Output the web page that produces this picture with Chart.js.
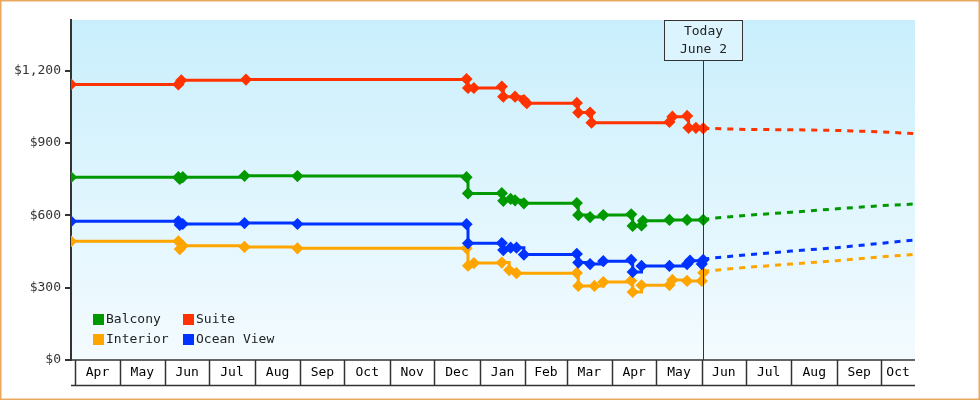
<!DOCTYPE html>
<html><head><meta charset="utf-8">
<script src="https://cdn.jsdelivr.net/npm/chart.js@4/dist/chart.umd.min.js"></script>
<style>html,body{margin:0;padding:0;background:#fff}#w{width:980px;height:400px}</style>
</head><body><div id="w"><canvas id="c"></canvas></div>
<script>
const monthLabels = ["Apr","May","Jun","Jul","Aug","Sep","Oct","Nov","Dec","Jan","Feb","Mar","Apr","May","Jun","Jul","Aug","Sep","Oct"];
const monthStarts = ["2018-04-01","2018-05-01","2018-06-01","2018-07-01","2018-08-01","2018-09-01","2018-10-01","2018-11-01","2018-12-01","2019-01-01","2019-02-01","2019-03-01","2019-04-01","2019-05-01","2019-06-01","2019-07-01","2019-08-01","2019-09-01","2019-10-01","2019-11-01"];
const yTicks = [0,300,600,900,1200];
const todayDate = "2019-06-02";
const todayLabel = ["Today","June 2"];
const rangeStart = "2018-03-29", rangeEnd = "2019-10-24";

const suite = [["2018-03-29",1143],["2018-06-10",1143],["2018-06-12",1160],["2018-07-26",1163],["2018-12-23",1165],["2018-12-24",1128],["2018-12-28",1128],["2019-01-16",1134],["2019-01-17",1092],["2019-01-25",1092],["2019-01-31",1078],["2019-02-02",1065],["2019-03-08",1066],["2019-03-09",1026],["2019-03-17",1026],["2019-03-18",984],["2019-05-10",987],["2019-05-12",1009],["2019-05-22",1012],["2019-05-23",963],["2019-05-28",963],["2019-06-02",961]];
const balcony = [["2018-03-29",758],["2018-06-10",758],["2018-06-11",751],["2018-06-13",758],["2018-07-25",764],["2018-08-30",763],["2018-12-23",758],["2018-12-24",691],["2019-01-16",692],["2019-01-17",660],["2019-01-22",668],["2019-01-25",662],["2019-01-31",650],["2019-03-08",651],["2019-03-09",601],["2019-03-17",593],["2019-03-26",601],["2019-04-14",604],["2019-04-15",556],["2019-04-21",558],["2019-04-22",577],["2019-05-10",581],["2019-05-22",581],["2019-06-02",581]];
const oceanView = [["2018-03-29",575],["2018-06-10",575],["2018-06-11",560],["2018-06-13",564],["2018-07-25",568],["2018-08-30",564],["2018-12-23",563],["2018-12-24",484],["2019-01-16",485],["2019-01-17",456],["2019-01-22",466],["2019-01-26",466],["2019-01-31",437],["2019-03-08",440],["2019-03-09",404],["2019-03-17",398],["2019-03-26",410],["2019-04-14",415],["2019-04-15",365],["2019-04-21",390],["2019-05-10",390],["2019-05-22",398],["2019-05-24",412],["2019-06-01",398],["2019-06-02",415]];
const interior = [["2018-03-29",492],["2018-06-10",492],["2018-06-11",460],["2018-06-13",474],["2018-07-25",469],["2018-08-30",463],["2018-12-23",463],["2018-12-24",391],["2018-12-28",402],["2019-01-16",404],["2019-01-21",373],["2019-01-26",360],["2019-03-08",361],["2019-03-09",307],["2019-03-20",307],["2019-03-26",323],["2019-04-14",329],["2019-04-15",282],["2019-04-21",310],["2019-05-10",311],["2019-05-12",332],["2019-05-22",328],["2019-06-01",328],["2019-06-02",362]];

const suiteProj = [["2019-06-02",961],["2019-07-01",956],["2019-08-01",955],["2019-09-01",952],["2019-10-01",946],["2019-10-24",939]];
const balconyProj = [["2019-06-02",584],["2019-07-01",600],["2019-08-01",613],["2019-09-01",627],["2019-10-01",640],["2019-10-24",647]];
const oceanProj = [["2019-06-02",419],["2019-07-01",436],["2019-08-01",452],["2019-09-01",466],["2019-10-01",484],["2019-10-24",498]];
const interiorProj = [["2019-06-02",368],["2019-07-01",384],["2019-08-01",398],["2019-09-01",412],["2019-10-01",428],["2019-10-24",438]];

const colors = {Balcony:"#009900",Suite:"#ff3300",Interior:"#ffa500","Ocean View":"#0033ff"};
const day = s => Date.parse(s+"T00:00:00Z")/86400000;
const pts = a => a.map(([d,v])=>({x:day(d),y:v}));
const FONT = '"DejaVu Sans Mono", monospace';

function solid(label, data){ return {label, data:pts(data), borderColor:colors[label], backgroundColor:colors[label], borderWidth:3, stepped:true, pointStyle:'rectRot', pointRadius:4, pointHoverRadius:4}; }
function proj(label, data){ return {label:label+" proj", data:pts(data), borderColor:colors[label], borderWidth:3, borderDash:[6,6], pointRadius:0, proj:true}; }

const deco = {
  id:'deco',
  beforeDraw(ch){
    const {ctx, chartArea:a} = ch;
    const g = ctx.createLinearGradient(0,a.top,0,a.bottom);
    g.addColorStop(0,"#c9effc"); g.addColorStop(1,"#f4fbff");
    ctx.save(); ctx.fillStyle=g; ctx.fillRect(a.left,a.top,a.right-a.left,a.bottom-a.top); ctx.restore();
  },
  afterDraw(ch){
    const {ctx, chartArea:a, scales:{x}} = ch;
    ctx.save();
    // month boxes
    ctx.strokeStyle="#333"; ctx.lineWidth=1.5; ctx.fillStyle="#000";
    ctx.font="13px "+FONT; ctx.textAlign="center"; ctx.textBaseline="middle";
    const top=a.bottom, bot=a.bottom+25;
    ctx.beginPath(); ctx.moveTo(a.left,bot+0.5); ctx.lineTo(a.right,bot+0.5); ctx.moveTo(a.left,top); ctx.lineTo(a.right,top); ctx.stroke();
    for(let i=0;i<monthLabels.length;i++){
      const x0=x.getPixelForValue(day(monthStarts[i]));
      const x1=Math.min(x.getPixelForValue(day(monthStarts[i+1])),a.right);
      ctx.beginPath(); ctx.moveTo(Math.round(x0)+0.5,top); ctx.lineTo(Math.round(x0)+0.5,bot); ctx.stroke();
      ctx.fillText(monthLabels[i],(x0+x1)/2,top+13);
    }
    // today
    const tx=Math.round(x.getPixelForValue(day(todayDate)))+0.5;
    ctx.lineWidth=1; ctx.strokeStyle="#333";
    ctx.beginPath(); ctx.moveTo(tx,a.top+40); ctx.lineTo(tx,a.bottom); ctx.stroke();
    ctx.fillStyle="rgba(220,244,253,1)";
    ctx.fillRect(tx-39,a.top+0.5,78,40); ctx.strokeRect(tx-39,a.top+0.5,78,40);
    ctx.fillStyle="#222";
    ctx.fillText(todayLabel[0],tx,a.top+12); ctx.fillText(todayLabel[1],tx,a.top+30);
    // legend
    const items=[["Balcony",0,0],["Suite",1,0],["Interior",0,1],["Ocean View",1,1]];
    ctx.textAlign="left";
    for(const [n,c,r] of items){
      const lx=a.left+22+c*90, ly=a.top+294+r*20;
      ctx.fillStyle=colors[n]; ctx.fillRect(lx,ly,11,11);
      ctx.fillStyle="#222"; ctx.fillText(n,lx+13,ly+6);
    }
    // border
    ctx.strokeStyle="#e8a860"; ctx.lineWidth=1.5; ctx.strokeRect(0.75,0.75,ch.width-1.5,ch.height-1.5);
    ctx.restore();
  }
};

new Chart(document.getElementById('c'),{
  type:'line',
  data:{datasets:[solid("Suite",suite),solid("Balcony",balcony),solid("Ocean View",oceanView),solid("Interior",interior),
    proj("Suite",suiteProj),proj("Balcony",balconyProj),proj("Ocean View",oceanProj),proj("Interior",interiorProj)]},
  options:{
    responsive:true, maintainAspectRatio:false, animation:false,
    layout:{padding:{top:20,right:65,left:0,bottom:0}},
    plugins:{legend:{display:false},tooltip:{enabled:false}},
    scales:{
      x:{type:'linear',min:day(rangeStart),max:day(rangeEnd),ticks:{display:false},grid:{display:false},border:{display:false},
         afterFit(s){s.height=40;}},
      y:{min:0,max:1410,afterBuildTicks(s){s.ticks=yTicks.map(v=>({value:v}));},
         afterFit(s){s.width=71;},
         ticks:{color:"#333",font:{family:FONT,size:13},padding:4,callback:v=>"$"+v.toLocaleString('en-US')},
         grid:{drawOnChartArea:false,tickLength:6,color:"#333",lineWidth:2},
         border:{color:"#333",width:2}}
    }
  },
  plugins:[deco]
});
</script></body></html>
